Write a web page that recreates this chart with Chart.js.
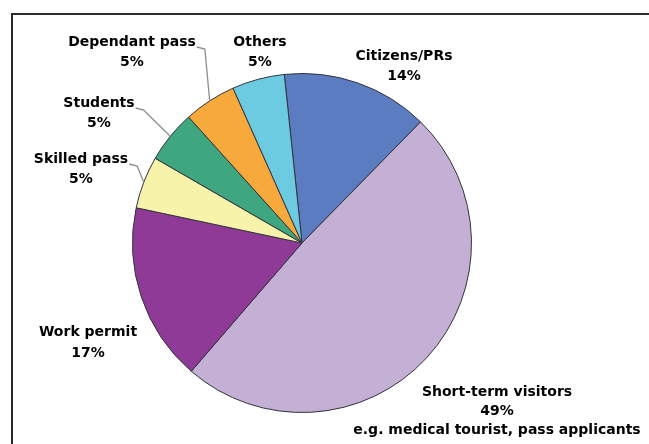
<!DOCTYPE html>
<html>
<head>
<meta charset="utf-8">
<script src="https://cdn.jsdelivr.net/npm/chart.js@4/dist/chart.umd.min.js"></script>
<style>
  html, body { margin: 0; padding: 0; background: #ffffff; }
  #wrap { width: 649px; height: 444px; position: relative; }
</style>
</head>
<body>
<div id="wrap"><canvas id="c" width="649" height="444"></canvas></div>
<script>
// ---- data ----
const categories = ['Citizens/PRs', 'Short-term visitors', 'Work permit', 'Skilled pass', 'Students', 'Dependant pass', 'Others'];
const shares = [14, 49, 17, 5, 5, 5, 5];
const notes = ['', 'e.g. medical tourist, pass applicants', '', '', '', '', ''];
const sliceColors = ['#5b7cc1', '#c5b0d5', '#903a97', '#f8f3ab', '#3ea77f', '#f7aa3b', '#6ccbe0'];

// label layout (text centre x, first line y) and whether a leader line is drawn
const labelLayout = [
  { x: 404, y: 56, leader: false },
  { x: 497, y: 392, leader: false, gap: 19 },
  { x: 88, y: 332, leader: false, gap: 21 },
  { x: 81, y: 159, leader: true },
  { x: 99, y: 103, leader: true },
  { x: 132, y: 42, leader: true },
  { x: 260, y: 42, leader: false }
];

const FONT = 'bold 14px "DejaVu Sans", Verdana, sans-serif';

const framePlugin = {
  id: 'frame',
  beforeDraw(chart) {
    const ctx = chart.ctx;
    ctx.save();
    ctx.fillStyle = '#ffffff';
    ctx.fillRect(0, 0, chart.width, chart.height);
    ctx.strokeStyle = '#2b2b2b';
    ctx.lineWidth = 2;
    ctx.beginPath();
    ctx.moveTo(649, 14);
    ctx.lineTo(12, 14);
    ctx.lineTo(12, 444);
    ctx.stroke();
    ctx.restore();
  }
};

const labelPlugin = {
  id: 'sliceLabels',
  afterDatasetsDraw(chart) {
    const ctx = chart.ctx;
    const meta = chart.getDatasetMeta(0);
    ctx.save();
    ctx.font = FONT;
    ctx.fillStyle = '#000000';
    ctx.textAlign = 'center';
    ctx.textBaseline = 'middle';
    meta.data.forEach((arc, i) => {
      const L = labelLayout[i];
      const gap = L.gap || 20;
      const lines = [categories[i], shares[i] + '%'];
      if (notes[i]) lines.push(notes[i]);
      lines.forEach((t, k) => ctx.fillText(t, L.x, L.y + k * gap));
      if (L.leader) {
        const w = ctx.measureText(categories[i]).width;
        const p = arc.getProps(['x', 'y', 'startAngle', 'endAngle', 'outerRadius'], true);
        const mid = (p.startAngle + p.endAngle) / 2;
        const ex = p.x + p.outerRadius * Math.cos(mid);
        const ey = p.y + p.outerRadius * Math.sin(mid);
        const sx = L.x + w / 2 + 1;
        const sy = L.y + 5;
        ctx.save();
        ctx.strokeStyle = '#8c8c8c';
        ctx.lineWidth = 1.3;
        ctx.beginPath();
        ctx.moveTo(sx, sy);
        ctx.lineTo(sx + 8, sy + 2);
        ctx.lineTo(ex, ey);
        ctx.stroke();
        ctx.restore();
      }
    });
    ctx.restore();
  }
};

new Chart(document.getElementById('c'), {
  type: 'pie',
  data: {
    labels: categories,
    datasets: [{
      data: shares,
      backgroundColor: sliceColors,
      borderColor: '#33333d',
      borderWidth: 1
    }]
  },
  options: {
    responsive: false,
    animation: false,
    rotation: -6,
    layout: { padding: { top: 73, bottom: 31, left: 132, right: 177 } },
    plugins: {
      legend: { display: false },
      tooltip: { enabled: false }
    }
  },
  plugins: [framePlugin, labelPlugin]
});
</script>
</body>
</html>
